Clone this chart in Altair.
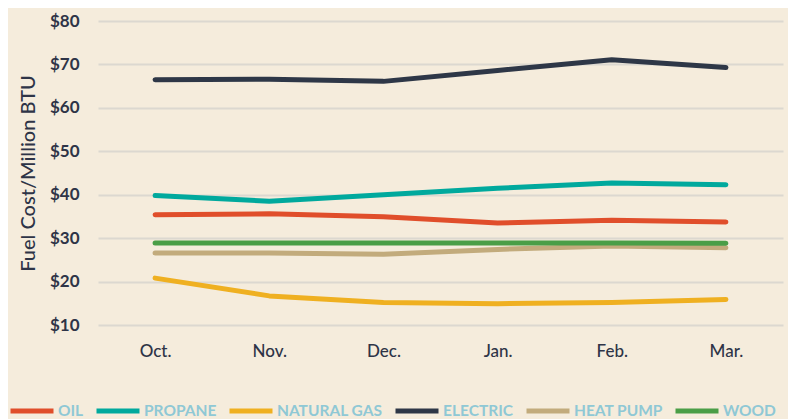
import altair as alt
import pandas as pd

months = ["Oct.", "Nov.", "Dec.", "Jan.", "Feb.", "Mar."]
fuels = ["OIL", "PROPANE", "NATURAL GAS", "ELECTRIC", "HEAT PUMP", "WOOD"]
oil = [35.4, 35.6, 34.9, 33.5, 34.1, 33.7]
propane = [39.8, 38.5, 40.0, 41.5, 42.7, 42.3]
natural_gas = [20.8, 16.7, 15.2, 14.9, 15.2, 15.9]
electric = [66.5, 66.6, 66.1, 68.6, 71.1, 69.3]
heat_pump = [26.6, 26.6, 26.3, 27.4, 28.2, 27.8]
wood = [28.9, 28.9, 28.9, 28.9, 28.9, 28.8]
colors = ["#e04e2b", "#00a99d", "#efb021", "#2e3747", "#c2ab7c", "#4a9e47"]
y_ticks = [10, 20, 30, 40, 50, 60, 70, 80]

series = [oil, propane, natural_gas, electric, heat_pump, wood]
rows = []
for name, vals in zip(fuels, series):
    for m, v in zip(months, vals):
        rows.append({"month": m, "fuel": name, "cost": v})
df = pd.DataFrame(rows)

FONT = "Lato"
INK = "#2e3447"

chart = alt.Chart(df).mark_line(strokeWidth=5, strokeCap="round", strokeJoin="round").encode(
    x=alt.X("month:N", sort=months, scale=alt.Scale(type="point", padding=0.5),
            axis=alt.Axis(title=None, labelAngle=0, ticks=False, domain=False, grid=False,
                          labelFont=FONT, labelFontSize=17, labelFontWeight=500,
                          labelColor=INK, labelPadding=18)),
    y=alt.Y("cost:Q", scale=alt.Scale(domain=[10, 80], nice=False, zero=False),
            axis=alt.Axis(title="Fuel Cost/Million BTU", values=y_ticks,
                          labelExpr="'$' + datum.value", ticks=False, domain=False,
                          gridColor="#dcd8d0", gridWidth=2,
                          labelFont=FONT, labelFontSize=17, labelFontWeight="bold",
                          labelColor=INK, labelPadding=19,
                          titleFont=FONT, titleFontSize=20, titleFontWeight=500,
                          titleColor=INK, titlePadding=11)),
    color=alt.Color("fuel:N", sort=fuels, scale=alt.Scale(domain=fuels, range=colors),
                    legend=alt.Legend(title=None, orient="none", direction="horizontal",
                                      legendX=-90, legendY=366,
                                      symbolType="stroke", symbolSize=1849,
                                      symbolStrokeWidth=5, labelFont=FONT,
                                      labelFontSize=15.5, labelFontWeight="bold",
                                      labelColor="#8fc8d5", labelOffset=2,
                                      columnPadding=2)),
    order=alt.Order("fuel:N"),
).properties(
    width=685, height=304,
    padding={"left": 90, "top": 13, "right": 5, "bottom": 94},
    autosize=alt.AutoSizeParams(type="none"),
    background="#f5ecdc",
).configure_view(stroke=None)

chart.save("out.html", embed_options={"renderer": "svg", "actions": False})
